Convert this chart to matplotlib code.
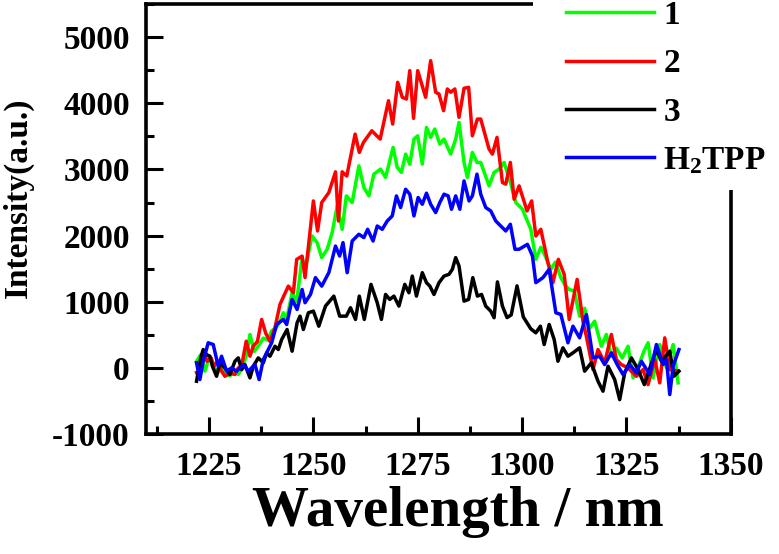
import matplotlib
matplotlib.use("Agg")
import matplotlib.pyplot as plt
from matplotlib.patches import Rectangle
from matplotlib.ticker import MultipleLocator

plt.rcParams['font.family'] = ['Liberation Serif', 'DejaVu Serif']
plt.rcParams['font.weight'] = 'bold'
plt.rcParams['axes.unicode_minus'] = False
plt.rcParams['mathtext.default'] = 'regular'

# sample 1 (green)
wl_1 = [1222, 1223, 1224, 1225, 1226, 1227, 1228, 1229, 1230, 1231,
        1232, 1233, 1234, 1234.8, 1235.8, 1236.8, 1238, 1239, 1240, 1241,
        1242, 1242.8, 1243.6, 1244.9, 1246, 1247.3, 1248, 1249.7, 1250.9, 1252,
        1253.3, 1254.5, 1255.7, 1256.9, 1257.9, 1259.3, 1260.9, 1262.1, 1263.3, 1264.5,
        1266.1, 1267.3, 1269.1, 1270.1, 1271.1, 1272.1, 1273.1, 1274.1, 1275, 1276.1,
        1277.1, 1278.1, 1279.1, 1280.3, 1281.3, 1282.9, 1284.1, 1284.9, 1286.1, 1286.9,
        1288.1, 1289.2, 1290.1, 1292.1, 1293.3, 1294.5, 1295.7, 1297.2, 1298.5, 1300.1,
        1302.1, 1303.3, 1304.5, 1305.5, 1306.9, 1308, 1309.3, 1310.3, 1311.3, 1312.5,
        1313.8, 1315, 1316.2, 1317.4, 1319, 1320.2, 1321.4, 1322.6, 1324, 1325.4,
        1326.6, 1328.2, 1329.2, 1330.2, 1331.4, 1333, 1334.6, 1336.2, 1337.4]
int_1 = [100, 200, -50, 150, 50, -80, 0, -100, -120, -50,
         -100, 0, 200, 505, 250, 327, 450, 420, 560, 600,
         700, 833, 732, 1136, 1000, 1667, 1490, 1994, 1894, 1667,
         1793, 2045, 2448, 2095, 2600, 2500, 3055, 2727, 2600, 2929,
         3005, 2879, 3333, 3030, 2955, 3232, 3080, 3459, 3509, 3080,
         3636, 3485, 3611, 3383, 3459, 3232, 3459, 3712, 3106, 2879,
         3257, 3106, 3106, 2752, 2955, 3005, 3106, 2803, 2500, 2398,
         2095, 1641, 1823, 1700, 1489, 1600, 1364, 1250, 1186, 1161,
         782, 900, 600, 706, 327, 505, 176, 300, 150, 327,
         -151, 76, 250, 379, -151, 353, 0, 353, -227]

# sample 2 (red)
wl_2 = [1222, 1222.8, 1223.6, 1224.5, 1225.5, 1226.2, 1227, 1228, 1228.8, 1230,
        1231.2, 1232, 1232.8, 1233.9, 1234.8, 1235.6, 1236.6, 1237.6, 1238.6, 1239.6,
        1240.8, 1242, 1243, 1244, 1245.2, 1246, 1247.3, 1248, 1250, 1251,
        1252, 1253.7, 1255.3, 1256, 1256.9, 1258, 1260, 1261, 1262, 1264,
        1266, 1268, 1269, 1270.2, 1271.3, 1272.3, 1273.1, 1274, 1275, 1276.9,
        1278.1, 1279.3, 1280.1, 1281.2, 1282.1, 1282.9, 1283.9, 1284.9, 1286.1, 1287.2,
        1288.1, 1289.3, 1290.1, 1292.1, 1292.9, 1294, 1295.3, 1296.1, 1297.2, 1298.1,
        1299.3, 1301.2, 1302.3, 1303.3, 1304.5, 1306.2, 1307.4, 1308.7, 1310.1, 1311.3,
        1313.2, 1314.6, 1315.4, 1317, 1318.2, 1319.8, 1321.4, 1322.6, 1323.8, 1325.4,
        1327.4, 1329, 1330.2, 1331.8, 1333, 1334.2, 1335.4, 1337.4]
int_2 = [-70, -50, 252, 100, 150, 25, 100, -50, -127, -80,
         -100, 0, 25, 403, 176, 327, 400, 732, 520, 400,
         610, 960, 1100, 1236, 1136, 1640, 1690, 1365, 2524, 2070,
         2500, 2650, 2964, 2221, 2964, 2900, 3535, 3257, 3409, 3585,
         3459, 4039, 3686, 4318, 4091, 4065, 4494, 3773, 4494, 4091,
         4645, 4167, 4141, 3888, 4217, 4167, 4217, 3788, 4227, 4242,
         3509, 3762, 3762, 3307, 3232, 3485, 2803, 2777, 3106, 2550,
         2752, 2373, 2524, 1994, 2095, 1591, 1288, 1641, 1414, 732,
         1338, 706, 479, -26, 277, 76, 505, 126, 50, 0,
         -127, -26, -253, 126, -227, 454, -26, -50]

# sample 3 (black)
wl_3 = [1222, 1223, 1223.6, 1224.4, 1225.2, 1225.8, 1226.8, 1227.6, 1228.8, 1230,
        1231.2, 1232, 1232.8, 1233.6, 1234.8, 1235.6, 1236.8, 1238, 1238.8, 1239.6,
        1240.8, 1241.6, 1242.4, 1243.7, 1244.9, 1246.1, 1246.8, 1247.6, 1248.8, 1250,
        1251.3, 1252.9, 1254.9, 1256.3, 1257.9, 1258.9, 1260.1, 1261, 1262.2, 1263.8,
        1265.3, 1266.3, 1267.3, 1268.3, 1269.3, 1270.5, 1271.9, 1272.9, 1273.7, 1274.7,
        1276.1, 1277.1, 1277.9, 1278.9, 1280.1, 1281.3, 1282.5, 1283.3, 1284.1, 1284.9,
        1286.1, 1287.2, 1288.2, 1289.3, 1290.3, 1291.3, 1292.5, 1293.3, 1294.1, 1295.3,
        1296.4, 1297.4, 1298.8, 1300.3, 1302.1, 1303.3, 1304.4, 1305.3, 1306.5, 1307.7,
        1308.6, 1309.8, 1311, 1312.2, 1313.8, 1315, 1316.6, 1318.2, 1319.4, 1320.6,
        1322.2, 1323.4, 1324.6, 1326.2, 1327.8, 1329.3, 1330.9, 1332.2, 1333.4, 1335.4,
        1336.4, 1337.6]
int_3 = [-202, 150, 277, 200, 176, 25, -127, 76, 0, -101,
         100, 151, -26, 50, -151, 25, 151, 76, 227, 176,
         327, 277, 429, 580, 252, 682, 782, 580, 833, 858,
         630, 934, 1085, 782, 782, 909, 732, 1085, 732, 1262,
         985, 732, 1110, 1035, 1085, 934, 1262, 1136, 1388, 1085,
         1439, 1288, 1237, 1110, 1288, 1388, 1414, 1490, 1667, 1540,
         1009, 1035, 1364, 1085, 1110, 934, 858, 758, 1300, 934,
         760, 800, 1240, 770, 590, 530, 630, 353, 656, 429,
         100, 303, 176, 227, 303, -50, 76, -202, -353, 25,
         -177, -480, -76, 151, -26, -253, 50, 277, 100, 252,
         -127, -50]

# H2TPP (blue)
wl_h = [1222, 1222.8, 1223.6, 1224.8, 1226, 1227.2, 1228, 1229.2, 1230.4, 1231.6,
        1233.2, 1234.4, 1236, 1237, 1238, 1239.2, 1240, 1241.2, 1242.8, 1243.6,
        1244.9, 1246.1, 1247.3, 1248, 1249.3, 1250.5, 1252, 1253.7, 1255.3, 1256.3,
        1257.1, 1258.1, 1259.3, 1260.9, 1262.1, 1263, 1264.3, 1265.3, 1266.5, 1267.7,
        1268.9, 1269.9, 1270.9, 1272.1, 1273.1, 1274.1, 1275.1, 1276.1, 1277.1, 1278.1,
        1279.3, 1280.3, 1281.3, 1282.3, 1283.1, 1284.1, 1285.1, 1286.1, 1287.3, 1288.1,
        1289.2, 1290.1, 1291.3, 1292.5, 1293.7, 1294.9, 1296.1, 1297.2, 1298.3, 1299.3,
        1301.3, 1302.5, 1303.3, 1305, 1306.5, 1308.1, 1309.3, 1311, 1312.2, 1313.8,
        1315.4, 1317, 1318.6, 1319.8, 1321.4, 1322.8, 1324.2, 1325.8, 1327.4, 1328.6,
        1330.6, 1332.2, 1333.8, 1334.6, 1335.4, 1336.2, 1337.6]
int_h = [76, -177, 100, 379, 353, 25, 176, -50, 0, -50,
         50, -50, 50, -177, 126, 277, 379, 656, 732, 656,
         1035, 883, 1186, 985, 1110, 1364, 1236, 1439, 1842, 1691,
         1894, 1439, 1918, 2020, 1970, 2095, 1918, 2145, 2095, 2221,
         2297, 2600, 2424, 2701, 2626, 2297, 2576, 2474, 2641, 2474,
         2348, 2500, 2626, 2600, 2398, 2600, 2398, 2827, 2524, 2600,
         2929, 2626, 2424, 2373, 2221, 2145, 2070, 2171, 1793, 1793,
         1868, 1690, 1288, 1364, 1489, 833, 808, 379, 630, 454,
         808, 151, 176, 50, 227, 50, -101, 50, -76, 100,
         -101, 353, 50, 126, -404, 25, 277]

labels = ['1', '2', '3', 'H$_2$TPP']
colors = ['#00ff00', '#ff0000', '#000000', '#0000ff']

fig = plt.figure(figsize=(7.79, 5.54), dpi=100)
ax = fig.add_axes([0.188, 0.2166, 0.75, 0.776])

series = [(wl_1, int_1), (wl_2, int_2), (wl_3, int_3), (wl_h, int_h)]
lines = []
for (x, y), c, lab in zip(series, colors, labels):
    ln, = ax.plot(x, y, color=c, lw=2.5, label=lab)
    lines.append(ln)

ax.set_xlim(1210, 1350)
ax.set_ylim(-1000, 5500)
ax.xaxis.set_major_locator(MultipleLocator(25))
ax.xaxis.set_minor_locator(MultipleLocator(12.5))
ax.yaxis.set_major_locator(MultipleLocator(1000))
ax.yaxis.set_minor_locator(MultipleLocator(500))

ax.tick_params(which='both', direction='in', width=2.2, labelsize=24, pad=12)
ax.tick_params(which='major', length=12)
ax.tick_params(which='minor', length=6)
for lab in ax.get_xticklabels() + ax.get_yticklabels():
    lab.set_fontweight('bold')
for sp in ax.spines.values():
    sp.set_linewidth(2.6)

fig.text(18 / 779, 1 - 198 / 554, 'Intensity(a.u.)', rotation=90,
         ha='center', va='center', fontsize=24, fontweight='bold')
fig.text(458 / 779, 1 - 512 / 554, 'Wavelength / nm', ha='center', va='center',
         fontsize=41, fontweight='bold')

# white block behind the legend hides part of the frame
fig.patches.append(Rectangle((533 / 779, 1 - 190 / 554), 1, 190 / 554,
                             transform=fig.transFigure, facecolor='white',
                             edgecolor='none', zorder=3))

fig.legend(lines, labels, loc='upper left', bbox_to_anchor=(566 / 779, 1.0),
           frameon=False, handlelength=2.65, handletextpad=0.27,
           labelspacing=0.52, borderpad=0, borderaxespad=0,
           prop={'weight': 'bold', 'size': 24})

fig.savefig('out.png', dpi=100)
